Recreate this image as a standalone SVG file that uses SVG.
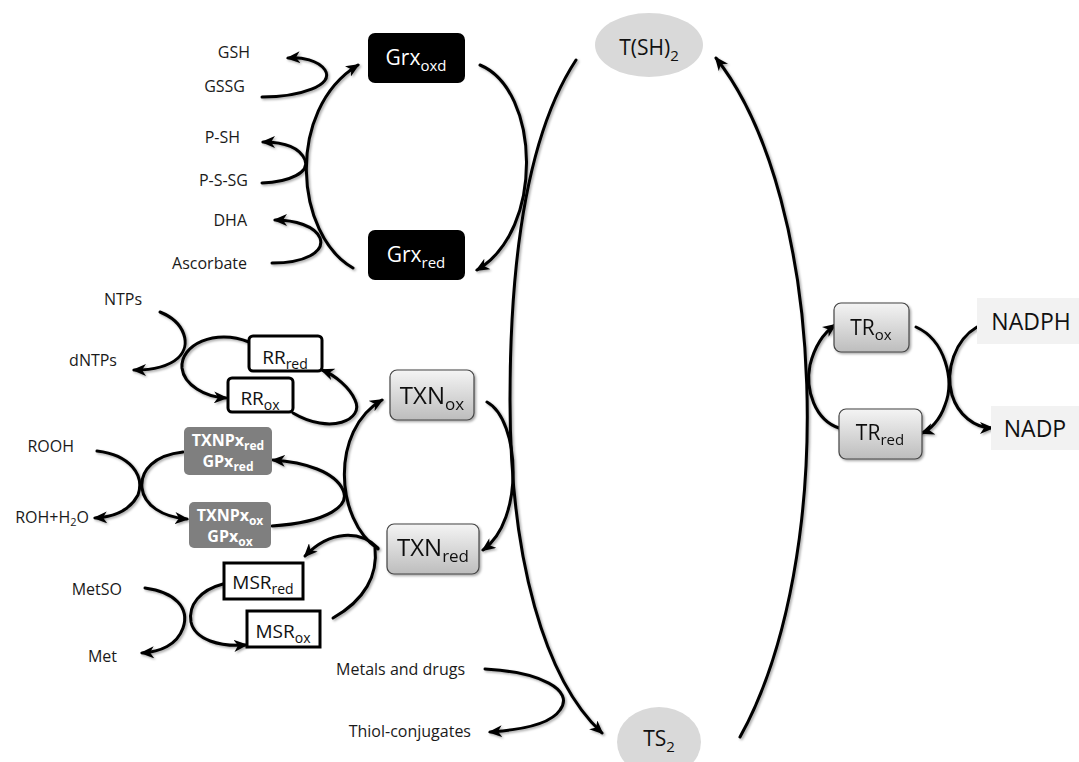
<svg xmlns="http://www.w3.org/2000/svg" width="1079" height="762" viewBox="0 0 1079 762">
<defs>
<linearGradient id="gbox" x1="0" y1="0" x2="0" y2="1">
<stop offset="0" stop-color="#f4f4f4"/>
<stop offset="1" stop-color="#bdbdbd"/>
</linearGradient>
<filter id="sh" x="-10%" y="-10%" width="130%" height="130%">
<feDropShadow dx="1.5" dy="1.5" stdDeviation="1.2" flood-color="#000" flood-opacity="0.35"/>
</filter>
<marker id="ah" viewBox="0 0 14 12" refX="12" refY="6" markerWidth="14" markerHeight="12" markerUnits="userSpaceOnUse" orient="auto">
<path d="M0,0 L14,6 L0,12 L4,6 z" fill="#000"/>
</marker>
</defs>
<style>
.lbl{font-family:"Open Sans","Noto Sans",sans-serif;font-size:16px;fill:#1a1a1a;}
.c{fill:none;stroke:#000;stroke-width:3;stroke-linecap:round;}
.a{marker-end:url(#ah);}
.nt{font-family:"Open Sans","Noto Sans",sans-serif;text-anchor:middle;fill:#111;}
.wt{font-family:"Open Sans","Noto Sans",sans-serif;text-anchor:middle;fill:#fff;}
.blk{fill:#000;}
.gr{fill:url(#gbox);stroke:#444;stroke-width:1.2;}
.wb{fill:#fff;stroke:#000;stroke-width:3;}
.dg{fill:#7f7f7f;}
.el{fill:#d9d9d9;}
.lt{fill:#f2f2f2;}
</style>
<rect width="1079" height="762" fill="#fff"/>

<g id="connectors" filter="url(#sh)">
<path class="c a" d="M262,97 C300,97 335,85 325,70 C318,60 302,57 288,58"/>
<path class="c a" d="M353,268 C295,235 285,110 358,65"/>
<path class="c a" d="M262,183 C290,182 310,172 305,160 C300,148 285,142 263,142"/>
<path class="c a" d="M272,263 C305,263 325,252 320,238 C315,226 295,220 275,220"/>
<path class="c a" d="M480,65 C540,90 545,230 477,270"/>
<path class="c a" d="M576,60 C530,130 510,250 510,400 C510,560 545,680 602,733"/>
<path class="c a" d="M740,737 C838,560 828,200 716,58"/>
<path class="c a" d="M485,669 C540,672 575,690 560,710 C550,725 520,730 490,732"/>
<path class="c a" d="M487,402 C520,420 525,520 483,550"/>
<path class="c a" d="M378,549 C335,520 330,430 382,400"/>
<path class="c" d="M333,618 C365,600 378,575 375,548"/>
<path class="c a" d="M378,548 C360,530 330,530 305,556"/>
<path class="c a" d="M293,413 C330,435 365,420 355,400 C350,388 335,375 322,370"/>
<path class="c a" d="M272,526 C330,522 350,505 343,490 C335,472 305,462 273,460"/>
<path class="c a" d="M249,342 C215,328 180,345 182,368 C184,385 205,397 226,398"/>
<path class="c a" d="M160,312 C185,322 192,345 178,358 C168,367 150,370 134,370"/>
<path class="c a" d="M97,451 C130,455 145,475 138,495 C130,510 115,517 95,518"/>
<path class="c a" d="M183,452 C155,455 140,470 142,488 C144,505 162,517 187,519"/>
<path class="c a" d="M145,588 C175,592 190,608 183,628 C177,645 160,652 142,653"/>
<path class="c a" d="M223,584 C200,590 188,605 191,622 C195,640 220,647 246,645"/>
<path class="c a" d="M839,428 C815,420 805,390 810,365 C815,345 825,332 835,325"/>
<path class="c a" d="M916,327 C945,340 955,380 945,405 C940,420 930,430 922,433"/>
<path class="c a" d="M977,327 C955,340 945,370 952,395 C958,415 975,428 992,428"/>
</g>

<g id="labels">
<text class="lbl" x="250" y="58" text-anchor="end">GSH</text>
<text class="lbl" x="245" y="92" text-anchor="end">GSSG</text>
<text class="lbl" x="240" y="143" text-anchor="end">P-SH</text>
<text class="lbl" x="248" y="186" text-anchor="end">P-S-SG</text>
<text class="lbl" x="247" y="226" text-anchor="end">DHA</text>
<text class="lbl" x="247" y="269" text-anchor="end">Ascorbate</text>
<text class="lbl" x="142" y="305" text-anchor="end">NTPs</text>
<text class="lbl" x="117" y="366" text-anchor="end">dNTPs</text>
<text class="lbl" x="74" y="452" text-anchor="end">ROOH</text>
<text class="lbl" x="89" y="523" text-anchor="end">ROH+H<tspan font-size="11" dy="3">2</tspan><tspan dy="-3">O</tspan></text>
<text class="lbl" x="122" y="595" text-anchor="end">MetSO</text>
<text class="lbl" x="117" y="662" text-anchor="end">Met</text>
<text class="lbl" x="465" y="675" text-anchor="end">Metals and drugs</text>
<text class="lbl" x="471" y="737" text-anchor="end">Thiol-conjugates</text>
</g>

<g id="grx-oxd">
<rect class="blk" x="368" y="33" width="97" height="50" rx="7"/>
<text class="wt" x="416" y="65" font-size="21">Grx<tspan font-size="15" dy="6">oxd</tspan></text>
</g>
<g id="grx-red">
<rect class="blk" x="368" y="230" width="97" height="50" rx="7"/>
<text class="wt" x="416" y="262" font-size="21">Grx<tspan font-size="15" dy="6">red</tspan></text>
</g>
<g id="tsh2">
<ellipse class="el" cx="649" cy="45" rx="54" ry="32"/>
<text class="nt" x="649" y="55" font-size="21">T(SH)<tspan font-size="15" dy="6">2</tspan></text>
</g>
<g id="ts2">
<ellipse class="el" cx="659" cy="742" rx="42" ry="35"/>
<text class="nt" x="659" y="746" font-size="21">TS<tspan font-size="15" dy="6">2</tspan></text>
</g>
<g id="txn-ox" filter="url(#sh)">
<rect class="gr" x="390" y="370" width="84" height="50" rx="7"/>
<text class="nt" x="432" y="404" font-size="24">TXN<tspan font-size="17" dy="6">ox</tspan></text>
</g>
<g id="txn-red" filter="url(#sh)">
<rect class="gr" x="387" y="524" width="92" height="50" rx="7"/>
<text class="nt" x="433" y="556" font-size="24">TXN<tspan font-size="17" dy="6">red</tspan></text>
</g>
<g id="rr-red">
<rect class="wb" x="249" y="336" width="73" height="35" rx="4"/>
<text class="nt" x="285" y="364" font-size="19">RR<tspan font-size="14" dy="5">red</tspan></text>
</g>
<g id="rr-ox">
<rect class="wb" x="228" y="378" width="65" height="34" rx="4"/>
<text class="nt" x="260" y="405" font-size="19">RR<tspan font-size="14" dy="5">ox</tspan></text>
</g>
<g id="txnpx-red">
<rect class="dg" x="184" y="427" width="88" height="48" rx="5"/>
<text class="wt" x="228" y="446" font-size="16" font-weight="bold">TXNPx<tspan font-size="12" dy="4">red</tspan></text>
<text class="wt" x="228" y="467" font-size="16" font-weight="bold">GPx<tspan font-size="12" dy="4">red</tspan></text>
</g>
<g id="txnpx-ox">
<rect class="dg" x="189" y="502" width="82" height="46" rx="5"/>
<text class="wt" x="230" y="521" font-size="16" font-weight="bold">TXNPx<tspan font-size="12" dy="4">ox</tspan></text>
<text class="wt" x="230" y="542" font-size="16" font-weight="bold">GPx<tspan font-size="12" dy="4">ox</tspan></text>
</g>
<g id="msr-red">
<rect class="wb" x="224" y="563" width="79" height="36"/>
<text class="nt" x="263" y="589" font-size="19">MSR<tspan font-size="14" dy="5">red</tspan></text>
</g>
<g id="msr-ox">
<rect class="wb" x="247" y="611" width="73" height="36"/>
<text class="nt" x="283" y="638" font-size="19">MSR<tspan font-size="14" dy="5">ox</tspan></text>
</g>
<g id="tr-ox" filter="url(#sh)">
<rect class="gr" x="834" y="303" width="75" height="49" rx="7"/>
<text class="nt" x="871" y="335" font-size="21">TR<tspan font-size="15" dy="5">ox</tspan></text>
</g>
<g id="tr-red" filter="url(#sh)">
<rect class="gr" x="839" y="409" width="83" height="50" rx="7"/>
<text class="nt" x="880" y="440" font-size="21">TR<tspan font-size="15" dy="5">red</tspan></text>
</g>
<g id="nadph">
<rect class="lt" x="977" y="298" width="102" height="46"/>
<text class="nt" x="1031" y="330" font-size="23">NADPH</text>
</g>
<g id="nadp">
<rect class="lt" x="991" y="406" width="88" height="44"/>
<text class="nt" x="1035" y="437" font-size="23">NADP</text>
</g>
</svg>
